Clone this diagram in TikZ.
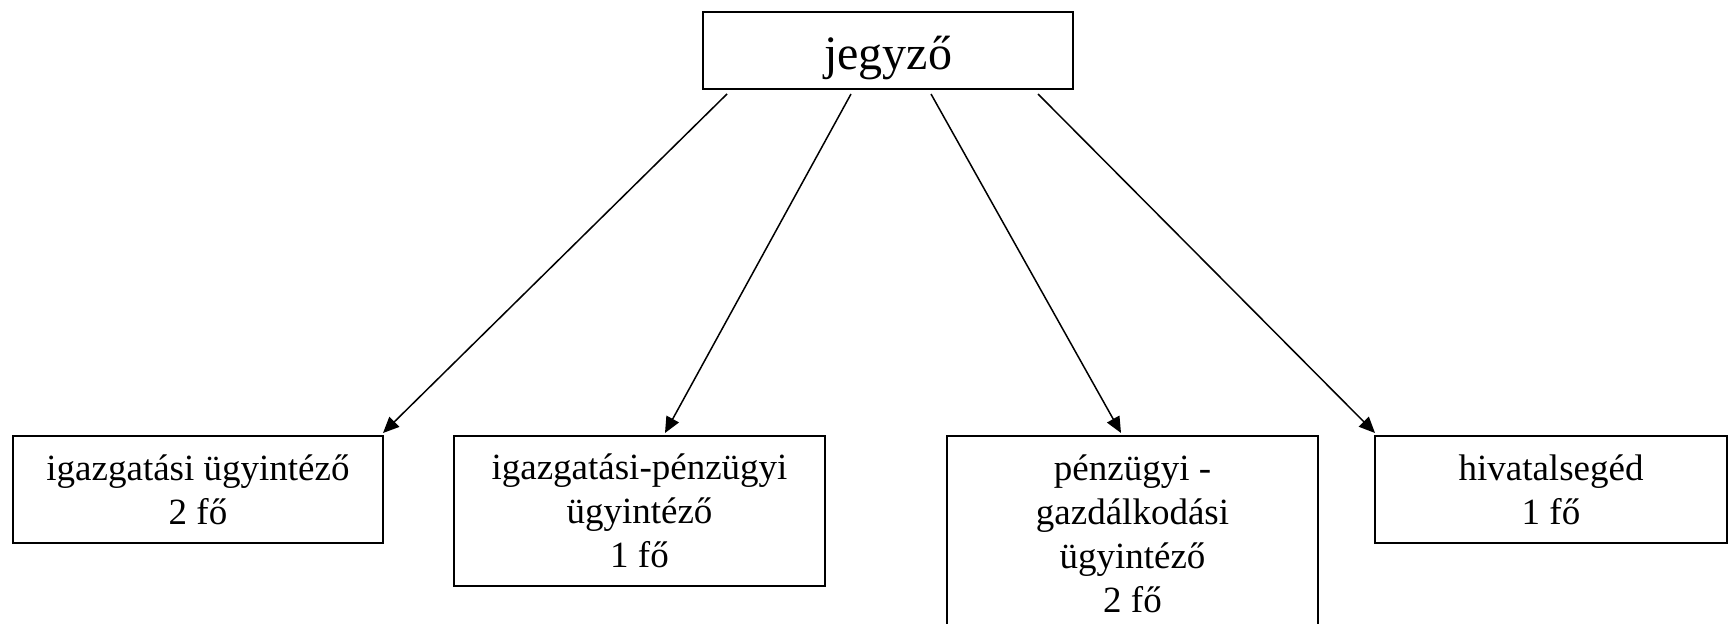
\documentclass[tikz,border=0pt]{standalone}
\usepackage{fontspec}
\setmainfont{Liberation Serif}
\usetikzlibrary{arrows.meta}
\begin{document}
\begin{tikzpicture}[x=0.5pt,y=-0.5pt,
  box/.style={draw,line width=1pt,inner sep=0pt,align=center,
    font=\fontsize{18.5}{22}\selectfont},
  conn/.style={line width=0.75pt,-{Triangle[length=8pt,width=7pt]}}]
\useasboundingbox (0,0) rectangle (1728,624);
\node[box,minimum width=185pt,minimum height=38.5pt,text height=20pt,text depth=0.5pt,
  font=\fontsize{24}{28}\selectfont] (top) at (888,50.5) {jegyző};
\node[box,minimum width=185pt,minimum height=53.5pt] (b1) at (198,489.5)
  {igazgatási ügyintéző\\2 fő};
\node[box,minimum width=185.5pt,minimum height=75pt] (b2) at (639.5,511)
  {igazgatási-pénzügyi\\ügyintéző\\1 fő};
\node[box,minimum width=185.5pt,minimum height=97.5pt] (b3) at (1132.5,533.5)
  {pénzügyi -\\gazdálkodási\\ügyintéző\\2 fő};
\node[box,minimum width=176pt,minimum height=53.5pt] (b4) at (1551,489.5)
  {hivatalsegéd\\1 fő};
\coordinate (s1) at (727,94);
\coordinate (s2) at (851,94);
\coordinate (s3) at (931,94);
\coordinate (s4) at (1038,94);
\coordinate (e1) at (383,433);
\coordinate (e2) at (665,433);
\coordinate (e3) at (1121,433);
\coordinate (e4) at (1375,433);
\draw[conn] (s1) -- (e1);
\draw[conn] (s2) -- (e2);
\draw[conn] (s3) -- (e3);
\draw[conn] (s4) -- (e4);
\end{tikzpicture}
\end{document}
